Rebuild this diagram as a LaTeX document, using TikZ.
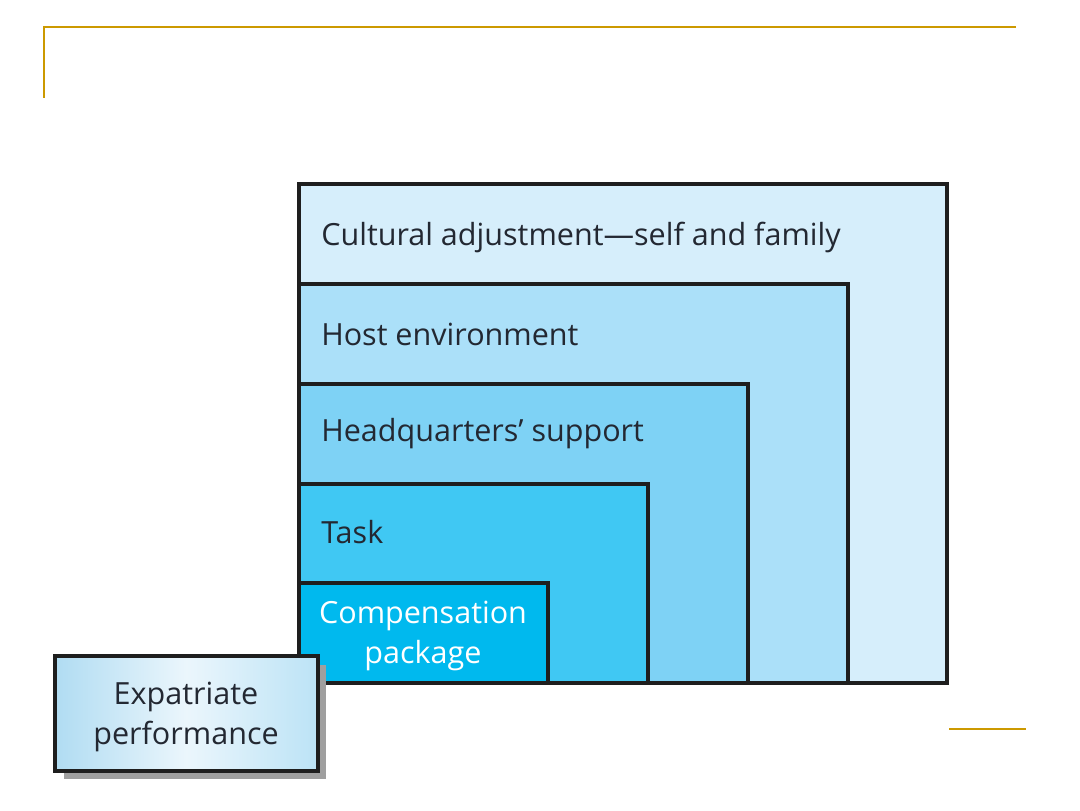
\documentclass[tikz,border=0pt]{standalone}
\usepackage{fontspec}
\setmainfont{Open Sans}
\begin{document}
\begin{tikzpicture}[x=0.75pt,y=-0.75pt,
  gold/.style={draw={rgb,255:red,204;green,153;blue,0},line width=2.1pt},
  layer/.style={draw={rgb,255:red,30;green,30;blue,30},line width=2.3pt},
  lbl/.style={anchor=west,font=\fontsize{22.9}{30}\selectfont,text={rgb,255:red,35;green,40;blue,50},inner sep=0pt}]
\useasboundingbox (0,0) rectangle (1080,810);
\definecolor{c1}{RGB}{214,238,251}
\definecolor{c2}{RGB}{171,224,249}
\definecolor{c3}{RGB}{126,210,245}
\definecolor{c4}{RGB}{64,200,243}
\definecolor{c5}{RGB}{0,185,238}
\draw[gold] (1016,27) -- (44,27) -- (44,98);
\draw[gold] (949,729) -- (1026,729);
\draw[layer,fill=c1] (299,184) rectangle (947,683);
\draw[layer,fill=c2] (299,284) rectangle (848,683);
\draw[layer,fill=c3] (299,384) rectangle (748,683);
\draw[layer,fill=c4] (299,484) rectangle (648,683);
\draw[layer,fill=c5] (299,583) rectangle (548,683);
\node[lbl] (t1) at (321,237) {Cultural adjustment—self and family};
\node[lbl] (t2) at (321,334) {Host environment};
\node[lbl] (t3) at (321,434) {Headquarters’ support};
\node[lbl] (t4) at (321,532) {Task};
\node[align=center,text=white,font=\fontsize{22.9}{29.5}\selectfont,inner sep=0pt] (t5) at (423,636) {Compensation\\package};
\fill[gray!75] (64,665) rectangle (326,779);
\shade[left color={rgb,255:red,176;green,220;blue,242},right color={rgb,255:red,188;green,227;blue,246},middle color={rgb,255:red,235;green,246;blue,252}] (55,656) rectangle (318,771);
\draw[layer] (55,656) rectangle (318,771);
\node[align=center,font=\fontsize{22.9}{30}\selectfont,text={rgb,255:red,35;green,40;blue,50},inner sep=0pt] (ep) at (186,717) {Expatriate\\performance};
\end{tikzpicture}
\end{document}
